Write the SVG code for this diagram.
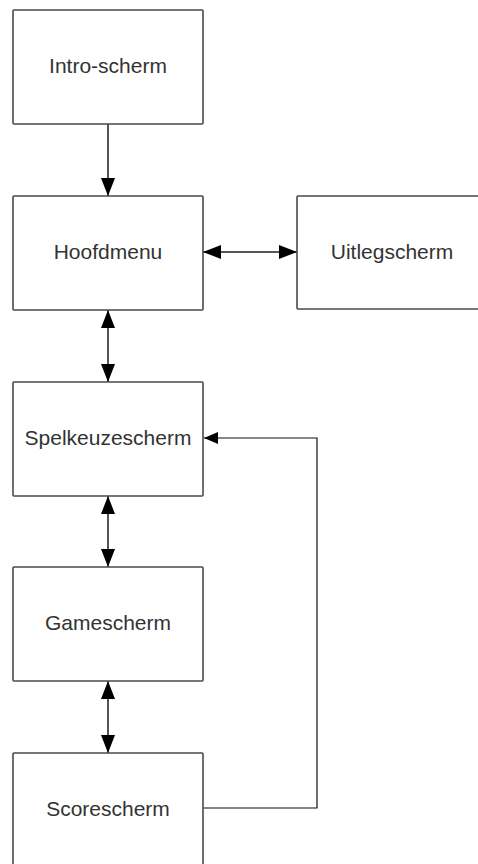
<svg xmlns="http://www.w3.org/2000/svg" width="478" height="864" viewBox="0 0 478 864">
<defs>
<style>
.box{fill:#fff;stroke:#4a4a4a;stroke-width:1.6}
.lbl{font-family:"Liberation Sans",Arial,sans-serif;font-size:21px;fill:#333;text-anchor:middle}
.conn{fill:none;stroke:#555;stroke-width:2}
.thin{fill:none;stroke:#111;stroke-width:1.2}
</style>
<marker id="ah" viewBox="0 0 18 14" refX="18" refY="7" markerWidth="18" markerHeight="14" markerUnits="userSpaceOnUse" orient="auto-start-reverse">
<path d="M0,0 L18,7 L0,14 Z" fill="#000"/>
</marker>
<marker id="as" viewBox="0 0 14 12" refX="14" refY="6" markerWidth="14" markerHeight="12" markerUnits="userSpaceOnUse" orient="auto">
<path d="M0,0 L14,6 L0,12 Z" fill="#000"/>
</marker>
</defs>
<rect width="478" height="864" fill="#fff"/>
<g id="connectors">
<line class="conn" x1="108" y1="124" x2="108" y2="196" marker-end="url(#ah)"/>
<line class="conn" x1="203" y1="252" x2="297" y2="252" marker-start="url(#ah)" marker-end="url(#ah)"/>
<line class="conn" x1="108" y1="310" x2="108" y2="382" marker-start="url(#ah)" marker-end="url(#ah)"/>
<line class="conn" x1="108" y1="496" x2="108" y2="567" marker-start="url(#ah)" marker-end="url(#ah)"/>
<line class="conn" x1="108" y1="681" x2="108" y2="753" marker-start="url(#ah)" marker-end="url(#ah)"/>
<polyline class="thin" points="203,808 317,808 317,438 204,438" marker-end="url(#as)"/>
</g>
<g id="intro"><rect class="box" x="13" y="10" width="190" height="114" rx="1"/><text class="lbl" x="108" y="73">Intro-scherm</text></g>
<g id="hoofdmenu"><rect class="box" x="13" y="196" width="190" height="114" rx="1"/><text class="lbl" x="108" y="259">Hoofdmenu</text></g>
<g id="uitleg"><rect class="box" x="297" y="196" width="190" height="113" rx="1"/><text class="lbl" x="392" y="259">Uitlegscherm</text></g>
<g id="spelkeuze"><rect class="box" x="13" y="382" width="190" height="114" rx="1"/><text class="lbl" x="108" y="445">Spelkeuzescherm</text></g>
<g id="game"><rect class="box" x="13" y="567" width="190" height="114" rx="1"/><text class="lbl" x="108" y="630">Gamescherm</text></g>
<g id="score"><rect class="box" x="13" y="753" width="190" height="114" rx="1"/><text class="lbl" x="108" y="816">Scorescherm</text></g>
</svg>
